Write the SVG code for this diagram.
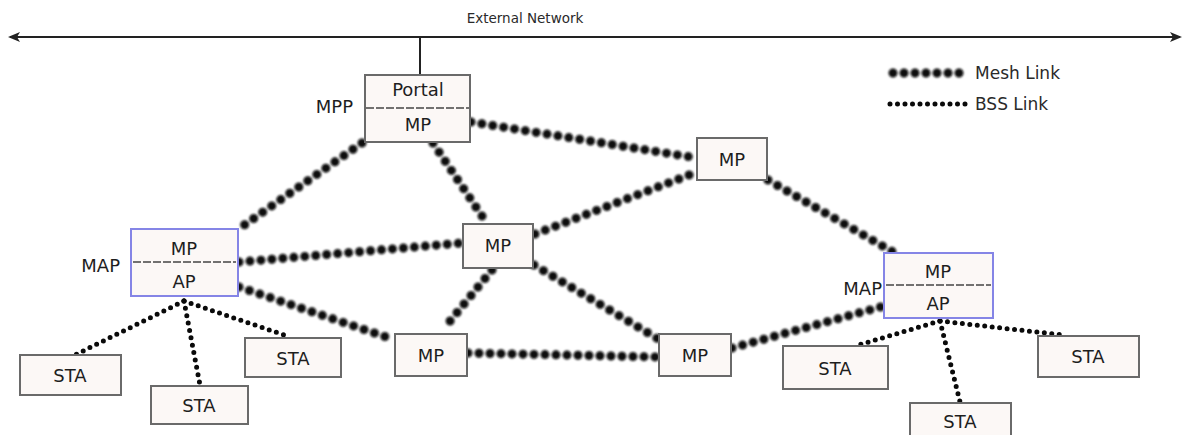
<svg xmlns="http://www.w3.org/2000/svg" width="1188" height="435" viewBox="0 0 1188 435">
  <defs>
    <style>
      .box { fill: #fcf8f6; stroke: #6a6a6a; stroke-width: 2; }
      .mapbox { fill: #fcf8f6; stroke: #8585e6; stroke-width: 2; }
      .div { stroke: #444; stroke-width: 1.5; stroke-dasharray: 8 2; }
      .lbl { font-family: "DejaVu Sans", Verdana, sans-serif; font-size: 18px; fill: #1e1e1e; text-anchor: middle; }
      .side { font-family: "DejaVu Sans", Verdana, sans-serif; font-size: 18px; fill: #1e1e1e; text-anchor: end; }
      .leg { font-family: "DejaVu Sans", Verdana, sans-serif; font-size: 17px; fill: #2a2a2a; }
      .mesh { fill: none; stroke: #0a0a0a; stroke-width: 9; stroke-linecap: round; stroke-dasharray: 0 11; filter: url(#soft); }
      .bss { fill: none; stroke: #0a0a0a; stroke-width: 5; stroke-linecap: round; stroke-dasharray: 0 7.5; }
      .net { stroke: #222; stroke-width: 2; fill: none; }
    </style>
    <filter id="soft" filterUnits="userSpaceOnUse" x="0" y="0" width="1188" height="435">
      <feGaussianBlur stdDeviation="1.3"/>
    </filter>
    <marker id="arr" markerWidth="12" markerHeight="10" refX="10" refY="5" orient="auto-start-reverse" markerUnits="userSpaceOnUse">
      <path d="M0,0 L12,5 L0,10 L3,5 Z" fill="#222"/>
    </marker>
  </defs>

  <!-- external network backbone -->
  <g id="external-network">
    <line class="net" x1="10" y1="37" x2="1180" y2="37" marker-start="url(#arr)" marker-end="url(#arr)"/>
    <line class="net" x1="420" y1="37" x2="420" y2="75"/>
    <text x="525" y="23" font-family="DejaVu Sans, Verdana, sans-serif" font-size="13.5" fill="#2a2a2a" text-anchor="middle">External Network</text>
  </g>

  <!-- connectors -->
  <g id="connectors">
    <!-- mesh links -->
    <line class="mesh" x1="362" y1="143" x2="240" y2="228"/>
    <line class="mesh" x1="433" y1="143" x2="486" y2="222"/>
    <line class="mesh" x1="471" y1="122" x2="697" y2="158"/>
    <line class="mesh" x1="239" y1="262" x2="462" y2="243"/>
    <line class="mesh" x1="239" y1="287" x2="395" y2="340"/>
    <line class="mesh" x1="492" y1="270" x2="446" y2="326"/>
    <line class="mesh" x1="534" y1="265" x2="660" y2="340"/>
    <line class="mesh" x1="535" y1="234" x2="697" y2="172"/>
    <line class="mesh" x1="768" y1="180" x2="893" y2="252"/>
    <line class="mesh" x1="468" y1="353" x2="659" y2="357"/>
    <line class="mesh" x1="732" y1="348" x2="884" y2="306"/>
    <!-- bss links, left access point -->
    <line class="bss" x1="184" y1="301" x2="75" y2="355"/>
    <line class="bss" x1="184" y1="301" x2="200" y2="385"/>
    <line class="bss" x1="184" y1="301" x2="290" y2="337"/>
    <!-- bss links, right access point -->
    <line class="bss" x1="940" y1="321" x2="855" y2="346"/>
    <line class="bss" x1="940" y1="321" x2="960" y2="402"/>
    <line class="bss" x1="940" y1="321" x2="1063" y2="335"/>
  </g>

  <!-- legend -->
  <g id="legend">
    <line class="mesh" x1="893" y1="73" x2="966" y2="73"/>
    <text class="leg" x="975" y="79">Mesh Link</text>
    <line class="bss" x1="890" y1="104" x2="968" y2="104"/>
    <text class="leg" x="975" y="110">BSS Link</text>
  </g>

  <!-- nodes -->
  <g id="mpp">
    <rect class="box" x="365" y="75" width="105" height="67"/>
    <line class="div" x1="366" y1="108" x2="469" y2="108"/>
    <text class="lbl" x="418" y="96">Portal</text>
    <text class="lbl" x="418" y="131">MP</text>
    <text class="side" x="353" y="113">MPP</text>
  </g>

  <g id="mp-top-right">
    <rect class="box" x="697" y="138" width="70" height="42"/>
    <text class="lbl" x="732" y="166">MP</text>
  </g>

  <g id="mp-center">
    <rect class="box" x="463" y="224" width="70" height="44"/>
    <text class="lbl" x="498" y="252">MP</text>
  </g>

  <g id="map-left">
    <rect class="mapbox" x="131" y="229" width="107" height="67"/>
    <line class="div" x1="133" y1="262" x2="236" y2="262"/>
    <text class="lbl" x="184" y="255">MP</text>
    <text class="lbl" x="184" y="288">AP</text>
    <text class="side" x="120" y="272">MAP</text>
  </g>

  <g id="map-right">
    <rect class="mapbox" x="884" y="253" width="109" height="65"/>
    <line class="div" x1="886" y1="285" x2="991" y2="285"/>
    <text class="lbl" x="938" y="278">MP</text>
    <text class="lbl" x="938" y="310">AP</text>
    <text class="side" x="882" y="295">MAP</text>
  </g>

  <g id="mp-bottom-left">
    <rect class="box" x="395" y="334" width="72" height="42"/>
    <text class="lbl" x="431" y="362">MP</text>
  </g>

  <g id="mp-bottom-right">
    <rect class="box" x="659" y="334" width="72" height="42"/>
    <text class="lbl" x="695" y="362">MP</text>
  </g>

  <g id="sta-1">
    <rect class="box" x="20" y="355" width="101" height="40"/>
    <text class="lbl" x="70" y="382">STA</text>
  </g>
  <g id="sta-2">
    <rect class="box" x="151" y="386" width="97" height="38"/>
    <text class="lbl" x="199" y="412">STA</text>
  </g>
  <g id="sta-3">
    <rect class="box" x="245" y="338" width="96" height="39"/>
    <text class="lbl" x="293" y="365">STA</text>
  </g>
  <g id="sta-4">
    <rect class="box" x="783" y="346" width="105" height="43"/>
    <text class="lbl" x="835" y="375">STA</text>
  </g>
  <g id="sta-5">
    <rect class="box" x="1038" y="336" width="101" height="41"/>
    <text class="lbl" x="1088" y="363">STA</text>
  </g>
  <g id="sta-6">
    <rect class="box" x="910" y="403" width="101" height="40"/>
    <text class="lbl" x="960" y="428">STA</text>
  </g>
</svg>
